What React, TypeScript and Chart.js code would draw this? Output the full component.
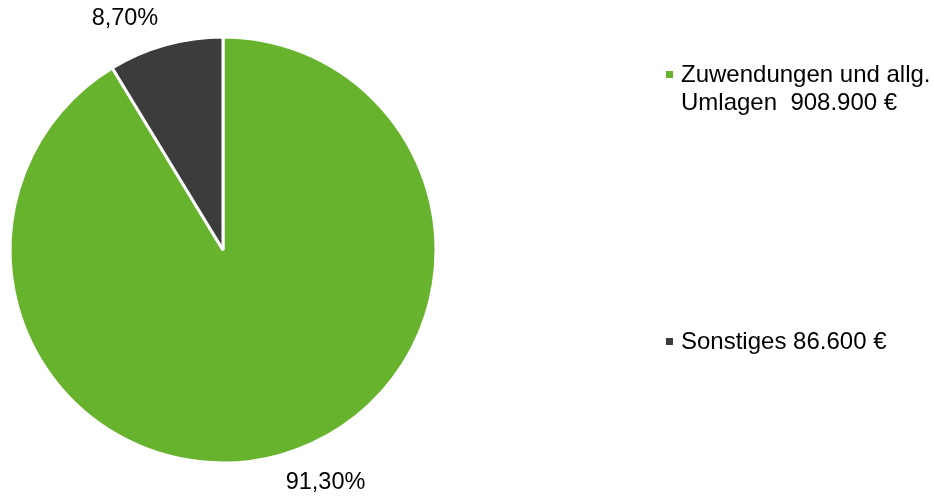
import React, { useEffect, useRef } from "react";
import { Chart, registerables } from "chart.js";

Chart.register(...registerables);

const categories: string[][] = [["Zuwendungen und allg.", "Umlagen  908.900 €"], ["Sonstiges 86.600 €"]];
const values: number[] = [908900, 86600];
const percentLabels: string[] = ["91,30%", "8,70%"];
const colors: string[] = ["#67b32e", "#3c3c3c"];

const FONT = '23.5px "Liberation Sans", Arial, sans-serif';
const LEGEND_FONT = '24px "Liberation Sans", Arial, sans-serif';

const labelPlugin = {
  id: "customLabels",
  afterDraw(chart: any) {
    const ctx = chart.ctx;
    const meta = chart.getDatasetMeta(0);
    // Label angle shift (degrees) relative to slice middle, mimicking Excel placement
    const shifts = [-8.3, -7.2];
    ctx.save();
    ctx.font = FONT;
    ctx.fillStyle = "#000";
    ctx.textAlign = "center";
    ctx.textBaseline = "alphabetic";
    meta.data.forEach((arc: any, i: number) => {
      const { x, y, startAngle, endAngle, outerRadius } = arc.getProps(
        ["x", "y", "startAngle", "endAngle", "outerRadius"],
        true
      );
      const mid = (startAngle + endAngle) / 2 + (shifts[i] * Math.PI) / 180;
      const r = outerRadius * 1.185;
      const lx = x + Math.cos(mid) * r;
      const ly = y + Math.sin(mid) * r;
      ctx.fillText(percentLabels[i], lx, ly + 8);
    });

    // legend
    ctx.font = LEGEND_FONT;
    const legendX = 666;
    const legendY = [82, 349];
    categories.forEach((lines, i) => {
      ctx.fillStyle = colors[i];
      ctx.fillRect(legendX, legendY[i] - 11, 7, 7);
      ctx.fillStyle = "#000";
      ctx.textAlign = "left";
      lines.forEach((line, j) => {
        ctx.fillText(line, legendX + 15, legendY[i] + j * 27.5);
      });
    });
    ctx.restore();
  },
};

export default function App() {
  const ref = useRef<HTMLCanvasElement>(null);
  useEffect(() => {
    if (!ref.current) return;
    const chart = new Chart(ref.current, {
      type: "pie",
      data: {
        labels: categories.map((c) => c.join(" ")),
        datasets: [
          {
            data: values,
            backgroundColor: colors,
            borderColor: "#ffffff",
            borderWidth: 3,
          },
        ],
      },
      options: {
        animation: false,
        responsive: false,
        maintainAspectRatio: false,
        layout: { padding: { left: 8.5, top: 35.5, right: 496.5, bottom: 33.5 } },
        plugins: {
          legend: { display: false },
          tooltip: { enabled: false },
        },
      },
      plugins: [labelPlugin],
    });
    return () => chart.destroy();
  }, []);
  return (
    <div style={{ position: "absolute", left: 0, top: 0, width: 934, height: 498, background: "#fff" }}>
      <canvas ref={ref} width={934} height={498} style={{ width: 934, height: 498 }} />
    </div>
  );
}
